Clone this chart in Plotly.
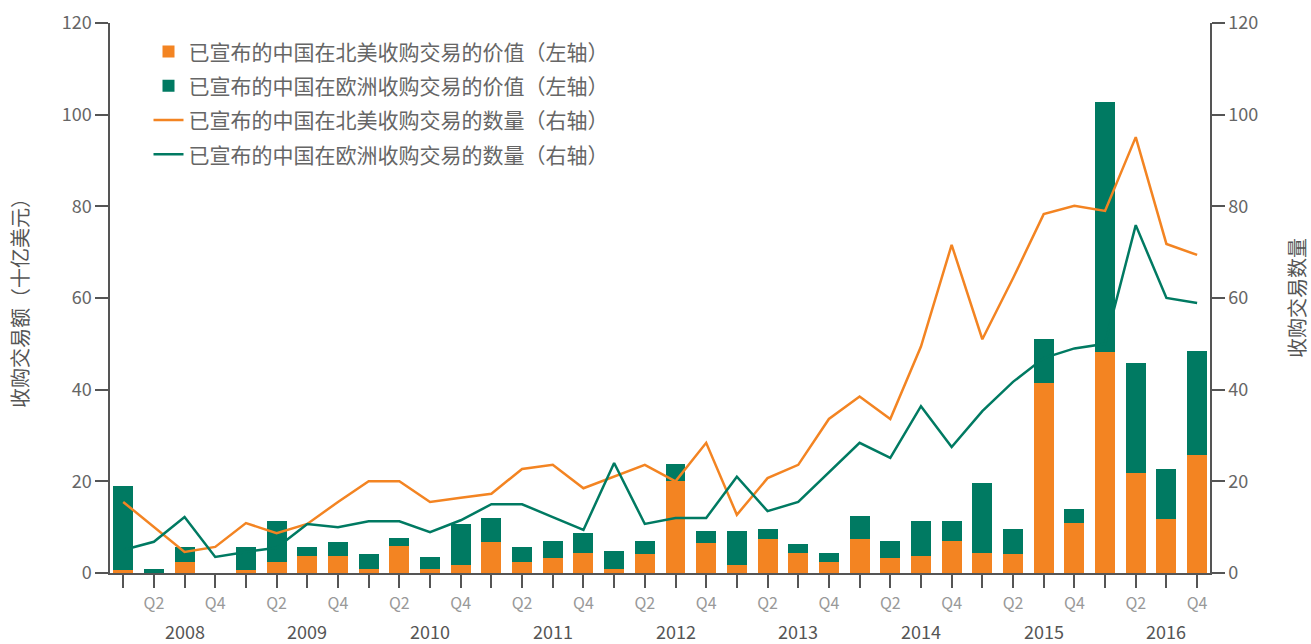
import plotly.graph_objects as go

quarters = ["Q1", "Q2", "Q3", "Q4"]
years = ["2008", "2009", "2010", "2011", "2012", "2013", "2014", "2015", "2016"]

# Value of announced deals, $bn (left axis)
na_value = [0.7, 0.0, 2.4, 0.0,
            0.7, 2.4, 3.7, 3.7,
            0.9, 5.9, 0.9, 1.7,
            6.8, 2.4, 3.3, 4.4,
            0.9, 4.1, 20.0, 6.5,
            1.7, 7.4, 4.4, 2.4,
            7.4, 3.3, 3.7, 7.0,
            4.4, 4.1, 41.5, 10.9,
            48.2, 21.8, 11.8, 25.7]
eu_value = [18.3, 0.9, 3.3, 0.0,
            5.0, 8.9, 2.0, 3.1,
            3.2, 1.7, 2.6, 9.0,
            5.2, 3.3, 3.7, 4.3,
            3.9, 2.9, 3.8, 2.7,
            7.5, 2.2, 1.9, 2.0,
            5.0, 3.7, 7.6, 4.3,
            15.2, 5.5, 9.6, 3.1,
            54.6, 24.1, 10.9, 22.7]

# Number of announced deals (right axis)
na_count = [15.5, 10.0, 4.6, 5.7,
            10.9, 8.7, 10.7, 15.5,
            20.0, 20.0, 15.5, 16.4,
            17.3, 22.7, 23.6, 18.5,
            21.0, 23.6, 20.0, 28.4,
            12.7, 20.7, 23.6, 33.6,
            38.5, 33.6, 49.4, 71.6,
            51.0, 64.3, 78.3, 80.1,
            79.0, 95.1, 71.8, 69.4]
eu_count = [5.0, 6.8, 12.2, 3.5,
            4.6, 5.5, 10.7, 10.0,
            11.3, 11.3, 8.9, 11.5,
            15.0, 15.0, 12.2, 9.4,
            24.0, 10.7, 12.0, 12.0,
            21.0, 13.5, 15.5, 21.9,
            28.4, 25.1, 36.4, 27.5,
            35.3, 41.7, 46.9, 49.0,
            50.0, 75.9, 60.0, 58.9]

x = list(range(len(na_value)))
tick_text = [q if q in ("Q2", "Q4") else "" for y in years for q in quarters]

ORANGE = "#F38422"
GREEN = "#007A62"
FONT = "Noto Sans CJK SC"

fig = go.Figure()
fig.add_trace(go.Bar(x=x, y=na_value, name="已宣布的中国在北美收购交易的价值（左轴）",
                     marker=dict(color=ORANGE, line=dict(width=0)), width=0.65,
                     legendgroup="a"))
fig.add_trace(go.Bar(x=x, y=eu_value, name="已宣布的中国在欧洲收购交易的价值（左轴）",
                     marker=dict(color=GREEN, line=dict(width=0)), width=0.65,
                     legendgroup="b"))
fig.add_trace(go.Scatter(x=x, y=na_count, name="已宣布的中国在北美收购交易的数量（右轴）",
                         mode="lines", line=dict(color=ORANGE, width=2.5), yaxis="y2",
                         legendgroup="c"))
fig.add_trace(go.Scatter(x=x, y=eu_count, name="已宣布的中国在欧洲收购交易的数量（右轴）",
                         mode="lines", line=dict(color=GREEN, width=2.5), yaxis="y2",
                         legendgroup="d"))

# Year labels under the Q3 tick of each year
for i, yr in enumerate(years):
    fig.add_annotation(x=i * 4 + 2, y=-0.106, xref="x", yref="paper", text=yr,
                       showarrow=False, yanchor="middle",
                       font=dict(family=FONT, size=18, color="#555555"))

axis_color = "#555555"
fig.update_layout(
    width=1311, height=644,
    margin=dict(l=110, r=101, t=23, b=71),
    paper_bgcolor="white", plot_bgcolor="white",
    barmode="stack", bargap=0.35,
    font=dict(family=FONT, color="#666666"),
    showlegend=True,
    legend=dict(x=0.035, y=0.985, xanchor="left", yanchor="top",
                font=dict(family=FONT, size=21, color="#666666"),
                bgcolor="rgba(0,0,0,0)", traceorder="grouped", tracegroupgap=4,
                itemwidth=30),
    xaxis=dict(range=[-0.43, 35.42], tickmode="array", tickvals=x, ticktext=tick_text,
               ticks="outside", ticklen=13, tickcolor=axis_color, tickwidth=1.5,
               showline=True, linecolor=axis_color, linewidth=1.5, automargin=False,
               showgrid=False, zeroline=False, ticklabelstandoff=2,
               tickfont=dict(family=FONT, size=16, color="#999999")),
    yaxis=dict(range=[0, 120], tickvals=[0, 20, 40, 60, 80, 100, 120],
               ticks="outside", ticklen=13, tickcolor=axis_color, tickwidth=1.5,
               showline=True, linecolor=axis_color, linewidth=1.5, automargin=False,
               showgrid=False, zeroline=False,
               tickfont=dict(family=FONT, size=18, color="#666666"),
               title=dict(text="收购交易额（十亿美元）", standoff=28,
                          font=dict(family=FONT, size=20, color="#555555"))),
    yaxis2=dict(range=[0, 120], tickvals=[0, 20, 40, 60, 80, 100, 120], overlaying="y",
                side="right", ticks="outside", ticklen=13, tickcolor=axis_color,
                tickwidth=1.5, showline=True, linecolor=axis_color, linewidth=1.5,
                automargin=False, showgrid=False, zeroline=False,
                tickfont=dict(family=FONT, size=18, color="#666666"),
                title=dict(text="收购交易数量", standoff=34,
                           font=dict(family=FONT, size=20, color="#555555"))),
)

fig.write_html("out.html", config={"displayModeBar": False},
               post_script="document.body.style.margin='0';")
